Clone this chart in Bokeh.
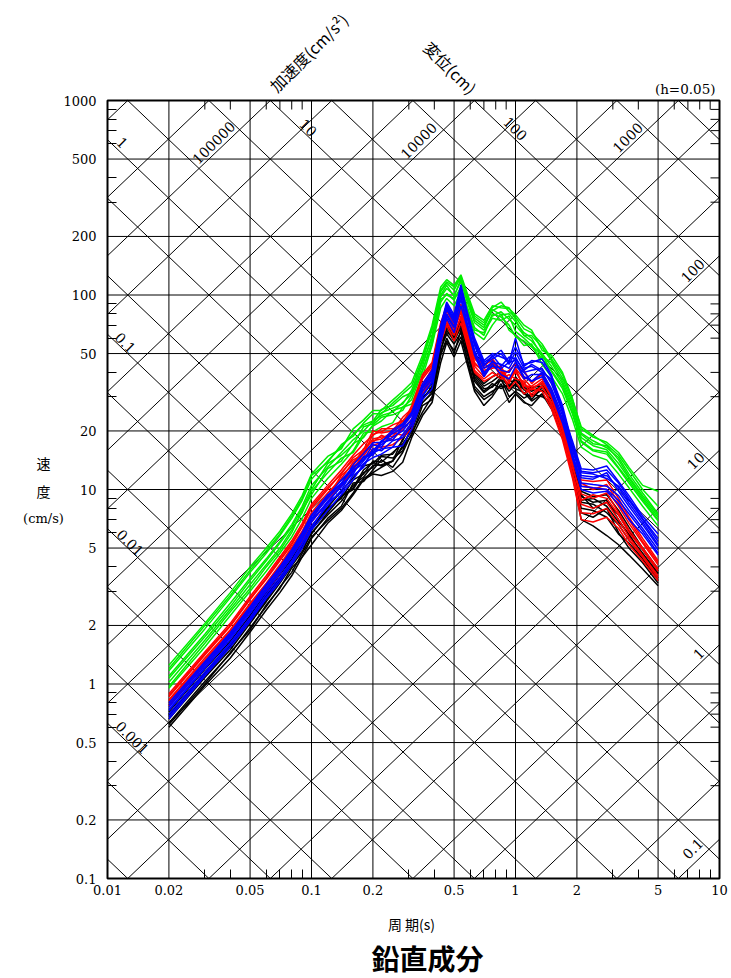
import math
from bokeh.plotting import figure
from bokeh.models import FixedTicker, CustomJSTickFormatter, Label, Range1d
from bokeh.embed import file_html
from bokeh.resources import INLINE

# ---------------- data ----------------
periods = [0.02, 0.03, 0.04, 0.05, 0.06, 0.07, 0.08, 0.09, 0.1, 0.12, 0.14, 0.16, 0.18,
           0.2, 0.22, 0.25, 0.28, 0.31, 0.35, 0.39, 0.43, 0.46, 0.5, 0.54, 0.58, 0.63, 0.7,
           0.77, 0.85, 0.93, 1.0, 1.1, 1.2, 1.35, 1.5, 1.7, 1.9, 2.1, 2.4, 2.8, 3.2, 3.6, 4.2, 5.0]

black_1 = [0.6, 0.98, 1.36, 1.85, 2.4, 2.95, 3.6, 4.5, 5.2, 6.7, 7.8, 9.4, 11.2, 12.0, 11.8, 12.4, 13.8, 18.5, 24, 28, 45, 57, 48, 58, 44, 32, 27, 30, 35, 28, 31, 28, 27, 31, 26, 19, 12, 7.0, 6.5, 5.8, 5.2, 4.6, 3.9, 3.2]
black_2 = [0.63, 1.03, 1.43, 1.95, 2.5, 3.15, 3.75, 4.7, 5.7, 6.9, 8.0, 9.6, 11.4, 12.2, 13.0, 14.0, 16.5, 19, 27, 29, 50, 58, 52, 61, 47, 34, 30, 32, 34, 34, 33, 31.5, 28.5, 31, 27, 20, 13, 8.0, 7.8, 7.2, 5.9, 5.3, 4.4, 3.4]
black_3 = [0.66, 1.08, 1.5, 2.05, 2.65, 3.3, 4.05, 4.8, 6.0, 7.4, 8.7, 10.5, 11.6, 13.3, 13.4, 14, 16.8, 20.5, 28, 31.5, 53, 63, 56, 64, 50, 36, 31.5, 34, 36.5, 32, 35, 31, 30, 32.5, 29, 21, 13.5, 8.6, 8.4, 7.6, 6.6, 5.5, 4.5, 3.5]
black_4 = [0.69, 1.13, 1.58, 2.15, 2.8, 3.45, 4.2, 5.2, 6.2, 7.8, 9.3, 10.2, 12.6, 13.8, 13.2, 14.0, 18.2, 21, 29.5, 33, 56, 66, 58, 68, 53, 38, 33, 33.5, 38, 34, 37, 32.5, 33.5, 34, 30.5, 22, 14, 9.2, 8.6, 8.8, 7.0, 5.8, 4.7, 3.7]
black_5 = [0.72, 1.19, 1.66, 2.25, 2.95, 3.65, 4.4, 5.4, 6.5, 8.1, 9.8, 11.5, 13.2, 13.6, 15.0, 15.2, 17.8, 22.5, 31, 35, 60, 70, 62, 73, 56, 40, 35, 38, 40, 36, 36, 34, 33, 35, 29.5, 23, 15, 9.8, 9.2, 9.4, 7.8, 6.4, 5.0, 3.9]
black_6 = [0.62, 1.0, 1.45, 1.9, 2.55, 3.1, 3.95, 4.5, 5.6, 7.1, 8.2, 10.8, 11.0, 12.6, 14.2, 13.0, 15.5, 19.5, 25, 30, 49, 60, 50, 66, 46, 33, 29, 31, 37, 30, 32, 29.5, 31, 30, 28, 20, 12.5, 7.6, 7.2, 8.0, 6.0, 5.0, 4.2, 3.3]
black_7 = [0.68, 1.1, 1.55, 2.1, 2.7, 3.4, 4.1, 5.0, 5.9, 7.6, 9.2, 10.0, 12.2, 13.0, 14.8, 14.5, 15.8, 21.5, 30, 32, 51, 68, 60, 70, 52, 37, 32, 35, 33, 35, 34, 33, 29, 33.5, 30, 21.5, 14.5, 8.8, 9.0, 8.2, 6.8, 5.9, 4.6, 3.7]
black_8 = [0.7, 1.15, 1.6, 2.2, 2.85, 3.5, 4.3, 5.1, 6.3, 8.0, 9.0, 11.2, 12.0, 14.0, 13.8, 15.5, 17.2, 20, 29, 34, 58, 64, 61, 76, 54, 39, 34, 36, 39, 33, 38, 33.5, 32, 34, 31, 22.5, 14.2, 9.4, 8.0, 8.6, 7.4, 6.1, 4.9, 3.8]

green_1 = [0.95, 1.55, 2.25, 3.0, 3.8, 4.7, 5.7, 7.1, 9.0, 11.4, 13.5, 15.8, 19.5, 19.8, 21, 22, 26.5, 27.5, 38, 55, 86, 96, 88, 104, 82, 64, 59, 70, 80, 66, 62, 55, 56, 44, 38, 31, 23, 16.5, 15.0, 14.2, 12.0, 10.2, 8.2, 6.5]
green_2 = [1.02, 1.68, 2.42, 3.25, 4.1, 5.0, 6.2, 7.6, 9.8, 12.2, 14.5, 15.5, 18.8, 21.2, 22.5, 25.5, 26.5, 29, 40.5, 58, 92, 102, 94, 110, 87, 68, 62, 80, 77, 70, 61, 58, 54, 47, 40.5, 33, 24.5, 17.5, 15.8, 15.2, 12.8, 10.8, 8.7, 6.9]
green_3 = [1.1, 1.8, 2.6, 3.5, 4.4, 5.4, 6.6, 8.2, 10.5, 13, 15.5, 18, 20, 22.5, 24, 25, 28, 31, 43, 62, 98, 108, 100, 117, 92, 72, 66, 78, 82, 75, 70, 62, 58, 50, 43, 35, 26, 18.5, 16.8, 16.0, 13.6, 11.4, 9.1, 7.2]
green_4 = [1.17, 1.92, 2.78, 3.75, 4.7, 5.8, 7.1, 8.8, 11.3, 14, 16.6, 19.3, 21.5, 22.5, 25.8, 27, 30, 31.5, 46, 66, 104, 115, 106, 124, 97, 76, 70, 83, 88, 86, 75, 62, 62, 54, 46, 37.5, 28, 19.5, 17.8, 16.4, 14.6, 12.0, 9.6, 7.5]
green_5 = [1.25, 2.05, 2.95, 4.0, 5.0, 6.1, 7.5, 9.3, 12.0, 14.8, 16.2, 20.5, 22.8, 25.5, 25.5, 28.8, 32, 35.5, 49, 70, 110, 120, 112, 127, 102, 80, 74, 88, 86, 85, 79, 70, 66, 52, 49, 40, 29.5, 20.5, 18.6, 17.5, 15.5, 13.0, 10.5, 9.8]
green_6 = [0.97, 1.62, 2.35, 3.1, 4.0, 4.85, 6.0, 7.8, 9.4, 12.8, 14.0, 17.2, 18.5, 21.5, 23.5, 24.2, 25.5, 30.5, 41, 56, 95, 100, 96, 108, 85, 66, 64, 76, 74, 78, 65, 60, 55, 49, 41, 34, 25, 17.8, 16.0, 15.6, 13.0, 11.1, 8.9, 7.0]
green_7 = [1.07, 1.75, 2.5, 3.4, 4.3, 5.3, 6.4, 8.0, 10.0, 13.6, 15.0, 17.0, 21.0, 21.8, 24.8, 26.2, 27.5, 32.5, 45, 60, 100, 112, 98, 121, 95, 74, 68, 84, 79, 80, 73, 64, 60, 48, 45, 36, 27, 19.2, 17.2, 16.8, 14.2, 11.6, 9.3, 7.4]
green_8 = [1.2, 2.0, 2.85, 3.85, 4.85, 5.9, 7.3, 9.0, 11.8, 13.8, 17.0, 18.8, 22.0, 24.5, 24.5, 27.8, 31, 34, 47, 68, 106, 117, 110, 125, 99, 78, 72, 86, 92, 82, 77, 67, 64, 56, 47, 39, 29, 21, 19.0, 17.0, 15.0, 12.6, 10.0, 8.2]

red_1 = [0.77, 1.25, 1.75, 2.4, 3.0, 3.7, 4.6, 5.4, 6.8, 8.6, 10.6, 13.2, 14.2, 16.2, 16.5, 17.0, 18.5, 20.5, 31, 37, 57, 70, 58, 72, 55, 40, 36, 38, 40, 33, 36, 31, 33, 32, 26, 18, 11.5, 7.0, 6.8, 7.2, 6.3, 5.2, 4.3, 3.4]
red_2 = [0.8, 1.3, 1.83, 2.5, 3.2, 3.95, 4.8, 5.8, 7.3, 9.0, 10.4, 13.0, 14.8, 17.5, 19.0, 18.0, 20.5, 23, 33, 39, 62, 74, 63, 76, 59, 43, 38, 45, 38, 35, 42, 33, 31, 34, 28, 19, 12.3, 8.4, 8.0, 8.6, 7.0, 5.7, 4.6, 3.6]
red_3 = [0.83, 1.36, 1.9, 2.6, 3.3, 4.1, 5.05, 6.1, 7.6, 9.6, 11.4, 13.8, 15.6, 18.2, 18.6, 18.8, 21.5, 24.5, 35, 41, 66, 79, 67, 81, 62, 45, 40, 43, 40.5, 37, 40, 35, 32.5, 36, 29.5, 20, 13, 9.5, 9.0, 9.6, 7.6, 6.2, 5.0, 3.9]
red_4 = [0.86, 1.41, 1.98, 2.72, 3.45, 4.3, 5.2, 6.4, 8.0, 10.0, 12.2, 14.2, 15.2, 19.2, 19.8, 21.5, 22.5, 25.5, 37, 43, 69, 83, 70, 85, 65, 47, 42, 44, 42, 36, 42, 37, 33.5, 35, 31, 21, 14, 10.4, 10.2, 10.0, 8.2, 6.7, 5.3, 4.1]
red_5 = [0.89, 1.46, 2.05, 2.82, 3.6, 4.5, 5.45, 6.7, 8.4, 10.5, 12.6, 15.0, 17.2, 19.0, 20.5, 20.5, 21.5, 27, 39, 45, 72, 88, 73, 90, 68, 49, 44, 46, 38, 41, 44, 41, 35, 40, 32.5, 22.5, 14.8, 11.2, 11.0, 11.2, 9.0, 7.2, 5.6, 4.3]
red_6 = [0.78, 1.28, 1.8, 2.45, 3.1, 3.85, 4.7, 5.7, 7.0, 9.3, 10.5, 12.5, 15.5, 16.8, 17.5, 19.5, 19.0, 22, 32, 38, 60, 72, 62, 78, 56, 41, 37, 40, 37, 39, 37, 36, 30, 34, 27, 19, 12, 7.6, 7.5, 8.0, 6.6, 5.5, 4.5, 3.5]
red_7 = [0.82, 1.33, 1.88, 2.55, 3.25, 4.05, 4.9, 6.0, 7.4, 9.1, 11.8, 13.4, 16.2, 17.8, 18.2, 19.8, 22.5, 25.5, 34, 42, 64, 80, 66, 84, 60, 44, 41, 42, 43, 36, 41, 34, 34, 37, 30, 20.5, 13.5, 8.8, 9.4, 9.0, 7.4, 6.0, 4.9, 3.8]
red_8 = [0.87, 1.43, 2.0, 2.75, 3.5, 4.4, 5.3, 6.5, 8.2, 10.2, 12.0, 14.6, 16.0, 20.0, 19.5, 20.0, 23.5, 26, 38, 44, 70, 86, 71, 88, 66, 48, 43, 47, 41, 40, 45, 38, 36, 39, 32, 22, 14.2, 10.8, 10.0, 10.6, 8.6, 7.0, 5.4, 4.2]

blue_1 = [0.66, 1.1, 1.55, 2.1, 2.75, 3.35, 4.1, 5.0, 6.2, 7.8, 9.4, 11.2, 13.6, 14.6, 15.2, 16.5, 16.8, 20.5, 29, 33, 57, 76, 64, 88, 68, 49, 38, 44, 39, 37, 43, 40, 36, 38, 31, 22, 14.5, 10.0, 9.6, 9.8, 8.4, 7.0, 5.9, 4.6]
blue_2 = [0.7, 1.15, 1.63, 2.2, 2.9, 3.55, 4.3, 5.3, 6.5, 8.3, 9.9, 12.6, 13.5, 15.4, 16.2, 16.5, 19.2, 22, 30.5, 35.5, 61, 80, 69, 99, 72, 52, 40, 43, 42, 45, 46, 38, 36, 40, 33, 24, 15.3, 10.8, 10.6, 10.4, 9.3, 7.8, 6.3, 4.9]
blue_3 = [0.73, 1.2, 1.7, 2.3, 3.0, 3.7, 4.5, 5.5, 6.8, 8.7, 10.3, 12.3, 14.0, 16.0, 17.0, 18.6, 20, 23, 32, 37, 64, 84, 72, 104, 76, 55, 42, 45, 44, 42, 48, 40, 41, 42, 35, 25, 16, 11.5, 11.3, 12.2, 9.8, 8.2, 6.6, 5.1]
blue_4 = [0.76, 1.25, 1.77, 2.4, 3.12, 3.85, 4.7, 5.75, 7.1, 9.0, 10.8, 12.8, 14.6, 15.5, 17.8, 19.4, 20.8, 22.5, 33.5, 39, 67, 88, 75, 108, 79, 57, 44, 47, 50, 44, 51, 42, 43, 40, 37, 26, 16.8, 12.2, 12.0, 11.4, 10.4, 8.8, 7.0, 5.4]
blue_5 = [0.8, 1.3, 1.84, 2.5, 3.25, 4.0, 4.9, 6.0, 7.4, 9.4, 10.7, 13.4, 15.3, 17.4, 17.5, 20.3, 21.8, 25, 35, 41, 70, 92, 79, 113, 82, 60, 46, 50, 48, 46, 54, 44, 45, 47, 39, 25, 17.8, 12.8, 12.6, 13.2, 11.0, 9.3, 7.3, 5.9]
blue_6 = [0.68, 1.12, 1.6, 2.15, 2.8, 3.45, 4.2, 5.2, 6.3, 8.6, 9.6, 11.8, 13.0, 16.2, 15.8, 17.8, 18.5, 21.5, 30, 36, 60, 78, 68, 95, 70, 50, 39, 46, 41, 40, 45, 37, 39, 39, 32, 23, 15, 10.4, 10.2, 10.0, 8.8, 7.5, 6.1, 4.7]
blue_7 = [0.74, 1.22, 1.74, 2.35, 3.05, 3.8, 4.6, 5.6, 7.0, 8.5, 10.6, 12.0, 14.8, 15.0, 17.5, 18.0, 21, 24, 33, 38, 65, 86, 74, 106, 78, 56, 43, 49, 43, 48, 47, 41, 44, 41, 36, 25.5, 16.4, 11.8, 11.6, 11.8, 10.2, 8.5, 6.8, 5.2]
blue_8 = [0.78, 1.28, 1.8, 2.45, 3.2, 3.95, 4.8, 5.9, 7.3, 9.2, 11.2, 13.0, 14.2, 17.0, 16.5, 19.8, 21.5, 24.5, 34, 40, 69, 90, 77, 110, 80, 58, 45, 48, 52, 45, 60, 43, 46, 45, 38, 27, 17.2, 12.4, 12.2, 12.6, 10.8, 9.0, 7.1, 5.6]

x_ticks = [0.01, 0.02, 0.05, 0.1, 0.2, 0.5, 1, 2, 5, 10]
y_ticks = [0.1, 0.2, 0.5, 1, 2, 5, 10, 20, 50, 100, 200, 500, 1000]
minor_mult = [3, 4, 6, 7, 8, 9]
disp_lines = [m * 10.0 ** k for k in range(-4, 4) for m in (1, 2, 5)]
acc_lines = [m * 10.0 ** k for k in range(-2, 7) for m in (1, 2, 5)]

disp_labels = [("1", 122, 142), ("10", 308, 127), ("100", 515, 128),
               ("0.1", 125, 342), ("0.01", 130, 542), ("0.001", 132, 737)]
acc_labels = [("100000", 213, 142), ("10000", 418, 140), ("1000", 627, 137),
              ("100", 692, 270), ("10", 695, 460), ("1", 698, 653), ("0.1", 692, 848)]

# ---------------- layout ----------------
W, H = 731, 978
X0, Y0, PXX, PXY = 107, 100, 204.0, 194.5   # plot box: left/top px, px per decade
TMIN, TMAX, SMIN, SMAX = 0.01, 10.0, 0.1, 1000.0


def at(px, py):
    return 10 ** (-2 + (px - X0) / PXX), 10 ** (3 - (py - Y0) / PXY)


xr = Range1d(at(0, 0)[0], at(W, 0)[0])
yr = Range1d(at(0, H)[1], at(0, 0)[1])

p = figure(width=W, height=H, x_axis_type="log", y_axis_type="log",
           x_range=xr, y_range=yr, output_backend="svg", toolbar_location=None,
           min_border=0, min_border_left=0, min_border_right=0,
           min_border_top=0, min_border_bottom=0)
p.background_fill_color = "white"
p.border_fill_color = "white"
p.outline_line_color = None
p.xgrid.visible = False
p.ygrid.visible = False

x_minor = [m * 10.0 ** k for k in range(-2, 1) for m in minor_mult]
y_minor = [m * 10.0 ** k for k in range(-1, 3) for m in minor_mult]
p.xaxis.ticker = FixedTicker(ticks=x_ticks, minor_ticks=x_minor)
p.yaxis.ticker = FixedTicker(ticks=y_ticks, minor_ticks=y_minor)
fmt = "return tick.toString();"
p.xaxis.formatter = CustomJSTickFormatter(code=fmt)
p.yaxis.formatter = CustomJSTickFormatter(code=fmt)
p.xaxis.fixed_location = SMIN
p.yaxis.fixed_location = TMIN
p.xaxis.bounds = (TMIN, TMAX)
p.yaxis.bounds = (SMIN, SMAX)
for ax in (p.xaxis, p.yaxis):
    ax.axis_line_color = None
    ax.major_tick_in = 0
    ax.major_tick_out = 0
    ax.minor_tick_in = 9
    ax.minor_tick_out = 0
    ax.minor_tick_line_color = "black"
    ax.major_label_text_font = "DejaVu Serif"
    ax.major_label_text_font_size = "13px"
    ax.major_label_text_color = "black"
p.yaxis.major_label_standoff = 11
p.xaxis.major_label_standoff = 6

# grid lines (period / velocity)
gx = x_ticks[1:-1]
gy = y_ticks[1:-1]
p.segment(x0=gx, y0=[SMIN] * len(gx), x1=gx, y1=[SMAX] * len(gx), line_color="black", line_width=1)
p.segment(x0=[TMIN] * len(gy), y0=gy, x1=[TMAX] * len(gy), y1=gy, line_color="black", line_width=1)

# minor ticks on top and right edges
p.ray(x=x_minor, y=[SMAX] * len(x_minor), length=9, length_units="screen",
      angle=-math.pi / 2, line_color="black", line_width=1)
p.ray(x=[TMAX] * len(y_minor), y=y_minor, length=9, length_units="screen",
      angle=math.pi, line_color="black", line_width=1)

# tripartite diagonal grid, clipped to the plot box
xs, ys = [], []
for d in disp_lines:
    c = 2 * math.pi * d
    t0, t1 = max(TMIN, c / SMAX), min(TMAX, c / SMIN)
    if t0 < t1:
        xs.append([t0, t1])
        ys.append([c / t0, c / t1])
for a in acc_lines:
    k = a / (2 * math.pi)
    t0, t1 = max(TMIN, SMIN / k), min(TMAX, SMAX / k)
    if t0 < t1:
        xs.append([t0, t1])
        ys.append([k * t0, k * t1])
p.multi_line(xs, ys, line_color="black", line_width=1)

# spectra
groups = [("black", [black_1, black_2, black_3, black_4, black_5, black_6, black_7, black_8]),
          ("#00ee00", [green_1, green_2, green_3, green_4, green_5, green_6, green_7, green_8]),
          ("red", [red_1, red_2, red_3, red_4, red_5, red_6, red_7, red_8]),
          ("blue", [blue_1, blue_2, blue_3, blue_4, blue_5, blue_6, blue_7, blue_8])]
for col, curves in groups:
    for c in curves:
        p.line(periods, c, line_color=col, line_width=1.5)

# plot box border
p.quad(left=[TMIN], right=[TMAX], bottom=[SMIN], top=[SMAX],
       fill_color=None, line_color="black", line_width=2)


def add_label(text, px, py, size, font, angle=0.0, align="center", style="normal"):
    x, y = at(px, py)
    p.add_layout(Label(x=x, y=y, text=text, angle=angle, angle_units="rad",
                       text_align=align, text_baseline="middle",
                       text_font=font, text_font_size=size,
                       text_font_style=style, text_color="black"))


for t, px, py in disp_labels:
    add_label(t, px, py, "14px", "DejaVu Serif", angle=-math.pi / 4)
for t, px, py in acc_labels:
    add_label(t, px, py, "14px", "DejaVu Serif", angle=math.pi / 4)

add_label("加速度(cm/s²)", 308, 52, "16px", "Noto Sans CJK JP", angle=math.pi / 4)
add_label("変位(cm)", 450, 67, "16px", "Noto Sans CJK JP", angle=-math.pi / 4)
add_label("(h=0.05)", 715, 88, "13.5px", "DejaVu Serif", align="right")
add_label("速", 43, 462, "14px", "Noto Sans CJK JP")
add_label("度", 43, 490, "14px", "Noto Sans CJK JP")
add_label("(cm/s)", 43, 518, "13px", "DejaVu Serif")
add_label("周 期(s)", 411, 923, "14px", "Noto Sans CJK JP")
add_label("鉛直成分", 427, 957, "28px", "Noto Sans CJK JP", style="bold")

open("out.html", "w").write(file_html(p, INLINE))
